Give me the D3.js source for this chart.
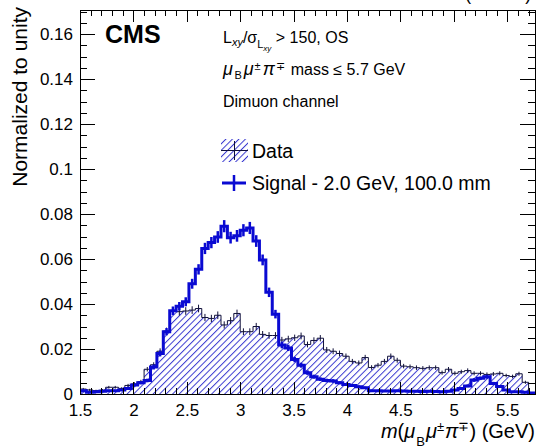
<!DOCTYPE html>
<html><head><meta charset="utf-8">
<script src="https://cdn.jsdelivr.net/npm/d3@7"></script>
<style>
body{margin:0;background:#fff}
svg{display:block}
text{font-family:"Liberation Sans",Arial,Helvetica,sans-serif;fill:#000}
</style>
</head><body>
<svg id="c" width="538" height="447"></svg>
<script>
// ---- data (bin lower edge 1.5 GeV, width 0.06 GeV) ----
const binStart = 1.5, binWidth = 0.06;
const dataVals = [
0.0022,0.0018,0.0015,0.0017,0.0030,0.0030,0.0025,0.0038,0.0045,0.0055,
0.0110,0.0130,0.0190,0.0280,0.0370,0.0366,0.0369,0.0373,0.0380,0.0340,
0.0336,0.0350,0.0307,0.0326,0.0358,0.0277,0.0277,0.0300,0.0265,0.0260,
0.0260,0.0240,0.0245,0.0250,0.0258,0.0220,0.0238,0.0248,0.0196,0.0190,
0.0180,0.0168,0.0145,0.0138,0.0162,0.0118,0.0128,0.0145,0.0168,0.0150,
0.0124,0.0121,0.0117,0.0114,0.0117,0.0117,0.0095,0.0110,0.0092,0.0099,
0.0104,0.0092,0.0092,0.0087,0.0089,0.0092,0.0082,0.0078,0.0090,0.0052];
const dataErr = [
0.0005,0.0005,0.0004,0.0005,0.0006,0.0006,0.0005,0.0007,0.0007,0.0008,
0.0010,0.0011,0.0013,0.0015,0.0017,0.0017,0.0017,0.0017,0.0017,0.0016,
0.0016,0.0017,0.0016,0.0016,0.0017,0.0015,0.0015,0.0016,0.0015,0.0015,
0.0015,0.0014,0.0014,0.0014,0.0015,0.0013,0.0014,0.0014,0.0013,0.0013,
0.0013,0.0012,0.0011,0.0011,0.0012,0.0010,0.0010,0.0011,0.0012,0.0011,
0.0010,0.0010,0.0010,0.0010,0.0010,0.0010,0.0009,0.0010,0.0009,0.0009,
0.0010,0.0009,0.0009,0.0009,0.0009,0.0009,0.0008,0.0008,0.0009,0.0007];
const sigVals = [
0.0015,0.0008,0.0010,0.0012,0.0015,0.0015,0.0018,0.0025,0.0040,0.0050,
0.0060,0.0120,0.0180,0.0277,0.0370,0.0390,0.0410,0.0490,0.0554,0.0647,
0.0673,0.0698,0.0746,0.0695,0.0703,0.0728,0.0738,0.0680,0.0596,0.0452,
0.0355,0.0218,0.0205,0.0153,0.0128,0.0095,0.0077,0.0066,0.0060,0.0058,
0.0050,0.0042,0.0038,0.0032,0.0028,0.0015,0.0014,0.0013,0.0013,0.0014,
0.0013,0.0012,0.0012,0.0011,0.0012,0.0011,0.0010,0.0012,0.0018,0.0025,
0.0036,0.0062,0.0070,0.0077,0.0047,0.0033,0.0018,0.0010,0.0010,0.0008,
0.0004];
const sigErr = [
0.0004,0.0003,0.0003,0.0003,0.0004,0.0004,0.0004,0.0005,0.0006,0.0007,
0.0008,0.0011,0.0013,0.0016,0.0019,0.0019,0.0020,0.0022,0.0023,0.0025,
0.0025,0.0026,0.0027,0.0026,0.0026,0.0027,0.0027,0.0026,0.0024,0.0021,
0.0019,0.0015,0.0014,0.0012,0.0011,0.0010,0.0009,0.0008,0.0008,0.0008,
0.0007,0.0006,0.0006,0.0006,0.0005,0.0004,0.0004,0.0004,0.0004,0.0004,
0.0004,0.0004,0.0004,0.0003,0.0004,0.0003,0.0003,0.0004,0.0004,0.0005,
0.0006,0.0008,0.0008,0.0009,0.0007,0.0006,0.0004,0.0003,0.0003,0.0003,
0.0002];
const xMajorTicks = [1.5,2,2.5,3,3.5,4,4.5,5,5.5];
const xTickLabels = ["1.5","2","2.5","3","3.5","4","4.5","5","5.5"];
const yMajorTicks = [0,0.02,0.04,0.06,0.08,0.1,0.12,0.14,0.16];
const yTickLabels = ["0","0.02","0.04","0.06","0.08","0.1","0.12","0.14","0.16"];
const xDomain = [1.5, 5.76], yDomain = [0, 0.1707];

// ---- layout ----
const L = 80, R = 535, T = 10, B = 394;
const svg = d3.select("#c");
const x = d3.scaleLinear().domain(xDomain).range([L, R]);
const y = d3.scaleLinear().domain(yDomain).range([B, T]);
const sigColor = "#0a0ad2", hatchColor = "#3a3ad0", dataColor = "#10103a";

const defs = svg.append("defs");
const pat = defs.append("pattern").attr("id","hatch").attr("patternUnits","userSpaceOnUse")
  .attr("width",4.6).attr("height",10).attr("patternTransform","rotate(45)");
pat.append("line").attr("x1",0.5).attr("y1",0).attr("x2",0.5).attr("y2",10)
  .attr("stroke",hatchColor).attr("stroke-width",1);
defs.append("clipPath").attr("id","clip").append("rect")
  .attr("x",L).attr("y",T).attr("width",R-L).attr("height",B-T);

const lo = i => binStart + i*binWidth, hi = i => binStart + (i+1)*binWidth;
function stepPts(vals){
  const p = [[x(lo(0)), y(0)]];
  vals.forEach((v,i)=>{ p.push([x(lo(i)), y(v)]); p.push([x(hi(i)), y(v)]); });
  p.push([x(hi(vals.length-1)), y(0)]);
  return p;
}
const line = d3.line();
const g = svg.append("g").attr("clip-path","url(#clip)");

// data hatched histogram
const dp = stepPts(dataVals);
g.append("path").attr("d", line(dp)+"Z").attr("fill","url(#hatch)").attr("stroke","none");
g.append("path").attr("d", line(dp)).attr("fill","none").attr("stroke",dataColor).attr("stroke-width",1);
g.append("g").selectAll("line").data(dataVals).join("line")
  .attr("x1",(d,i)=>x((lo(i)+hi(i))/2)).attr("x2",(d,i)=>x((lo(i)+hi(i))/2))
  .attr("y1",(d,i)=>y(d-dataErr[i])).attr("y2",(d,i)=>y(d+dataErr[i]))
  .attr("stroke",dataColor).attr("stroke-width",1);

// signal
const sp = stepPts(sigVals);
g.append("path").attr("d", line(sp)).attr("fill","none").attr("stroke",sigColor)
  .attr("stroke-width",3).attr("stroke-linejoin","miter");
g.append("g").selectAll("line").data(sigVals).join("line")
  .attr("x1",(d,i)=>x((lo(i)+hi(i))/2)).attr("x2",(d,i)=>x((lo(i)+hi(i))/2))
  .attr("y1",(d,i)=>y(Math.max(0,d-sigErr[i]))).attr("y2",(d,i)=>y(d+sigErr[i]))
  .attr("stroke",sigColor).attr("stroke-width",2.5);

// ---- axes ----
const xMinor = d3.range(15,58).map(v=>v/10);
const yMinor = d3.range(0,35).map(v=>v*0.005);
function styleAxis(sel){ sel.select(".domain").remove(); sel.selectAll("line").attr("stroke","#000").attr("shape-rendering","crispEdges"); }
const ax = svg.append("g").attr("class","axes");
ax.append("g").attr("transform",`translate(0,${B})`)
  .call(d3.axisBottom(x).tickValues(xMinor).tickSize(-6).tickFormat("")).call(styleAxis);
ax.append("g").attr("transform",`translate(0,${B})`)
  .call(d3.axisBottom(x).tickValues(xMajorTicks).tickSize(-12).tickPadding(10)
    .tickFormat((d,i)=>xTickLabels[i])).call(styleAxis);
ax.append("g").attr("transform",`translate(0,${T})`)
  .call(d3.axisTop(x).tickValues(xMinor).tickSize(-6).tickFormat("")).call(styleAxis);
ax.append("g").attr("transform",`translate(0,${T})`)
  .call(d3.axisTop(x).tickValues(xMajorTicks).tickSize(-12).tickFormat("")).call(styleAxis);
ax.append("g").attr("transform",`translate(${L},0)`)
  .call(d3.axisLeft(y).tickValues(yMinor).tickSize(-7).tickFormat("")).call(styleAxis);
ax.append("g").attr("transform",`translate(${L},0)`)
  .call(d3.axisLeft(y).tickValues(yMajorTicks).tickSize(-15).tickPadding(7)
    .tickFormat((d,i)=>yTickLabels[i])).call(styleAxis);
ax.append("g").attr("transform",`translate(${R},0)`)
  .call(d3.axisRight(y).tickValues(yMinor).tickSize(-7).tickFormat("")).call(styleAxis);
ax.append("g").attr("transform",`translate(${R},0)`)
  .call(d3.axisRight(y).tickValues(yMajorTicks).tickSize(-15).tickFormat("")).call(styleAxis);
ax.selectAll("text").attr("font-size",17).attr("font-family",null).attr("fill","#000");
svg.append("rect").attr("x",L).attr("y",T).attr("width",R-L).attr("height",B-T)
  .attr("fill","none").attr("stroke","#000").attr("stroke-width",1).attr("shape-rendering","crispEdges");

// ---- axis titles ----
svg.append("text").attr("transform",`translate(27,7) rotate(-90)`)
  .attr("text-anchor","end").attr("font-size",21).text("Normalized to unity");
const xt = svg.append("text").attr("x",R).attr("y",438).attr("text-anchor","end").attr("font-size",20);
xt.append("tspan").attr("font-style","italic").text("m");
xt.append("tspan").text("(");
xt.append("tspan").attr("font-style","italic").text("μ");
xt.append("tspan").attr("font-size",13).attr("dx",1).attr("dy",8).text("B");
xt.append("tspan").attr("font-style","italic").attr("dx",1).attr("dy",-8).text("μ");
xt.append("tspan").attr("font-size",13).attr("dy",-7).text("±");
xt.append("tspan").attr("font-style","italic").attr("dx",1).attr("dy",7).text("π");
xt.append("tspan").attr("font-size",13).attr("dy",-7).text("∓");
xt.append("tspan").attr("dy",7).text(") (GeV)");

// top-right lumi (mostly off-canvas, as in the reference)
svg.append("text").attr("x",531).attr("y",0).attr("text-anchor","end").attr("font-size",17.5).text("(13 TeV)");

// ---- labels in the frame ----
svg.append("text").attr("x",105).attr("y",43).attr("font-size",25).attr("font-weight","bold").text("CMS");
const t1 = svg.append("text").attr("x",223).attr("y",43).attr("font-size",16);
t1.append("tspan").text("L");
t1.append("tspan").attr("font-size",11).attr("font-style","italic").attr("dy",3).text("xy");
t1.append("tspan").attr("dy",-3).text("/σ");
t1.append("tspan").attr("font-size",11).attr("dy",5).text("L");
t1.append("tspan").attr("font-size",8).attr("font-style","italic").attr("dy",3).text("xy");
t1.append("tspan").attr("dy",-8).text(" > 150, OS");
const t2 = svg.append("text").attr("x",223).attr("y",75).attr("font-size",16);
t2.append("tspan").attr("font-style","italic").attr("font-size",18).text("μ");
t2.append("tspan").attr("font-size",11).attr("dx",1.5).attr("dy",4).text("B");
t2.append("tspan").attr("font-style","italic").attr("font-size",18).attr("dx",2).attr("dy",-4).text("μ");
t2.append("tspan").attr("font-size",11).attr("dx",1).attr("dy",-5).text("±");
t2.append("tspan").attr("font-style","italic").attr("font-size",18).attr("dx",2).attr("dy",5).text("π");
t2.append("tspan").attr("font-size",11).attr("dx",1).attr("dy",-5).text("∓");
t2.append("tspan").attr("dx",1.5).attr("dy",5).text(" mass ≤ 5.7 GeV");
svg.append("text").attr("x",223).attr("y",107).attr("font-size",16).text("Dimuon channel");

// ---- legend ----
const lg = svg.append("g");
lg.append("rect").attr("x",221).attr("y",139).attr("width",27).attr("height",23).attr("fill","url(#hatch)");
lg.append("line").attr("x1",221).attr("x2",248).attr("y1",150.5).attr("y2",150.5).attr("stroke",dataColor);
lg.append("line").attr("x1",234.5).attr("x2",234.5).attr("y1",141).attr("y2",160).attr("stroke",dataColor);
lg.append("text").attr("x",252).attr("y",158).attr("font-size",19.5).text("Data");
lg.append("line").attr("x1",222).attr("x2",246).attr("y1",183).attr("y2",183).attr("stroke",sigColor).attr("stroke-width",3);
lg.append("line").attr("x1",234).attr("x2",234).attr("y1",175).attr("y2",191).attr("stroke",sigColor).attr("stroke-width",2.5);
lg.append("text").attr("x",252).attr("y",190).attr("font-size",19.5).text("Signal - 2.0 GeV, 100.0 mm");
</script>
</body></html>
